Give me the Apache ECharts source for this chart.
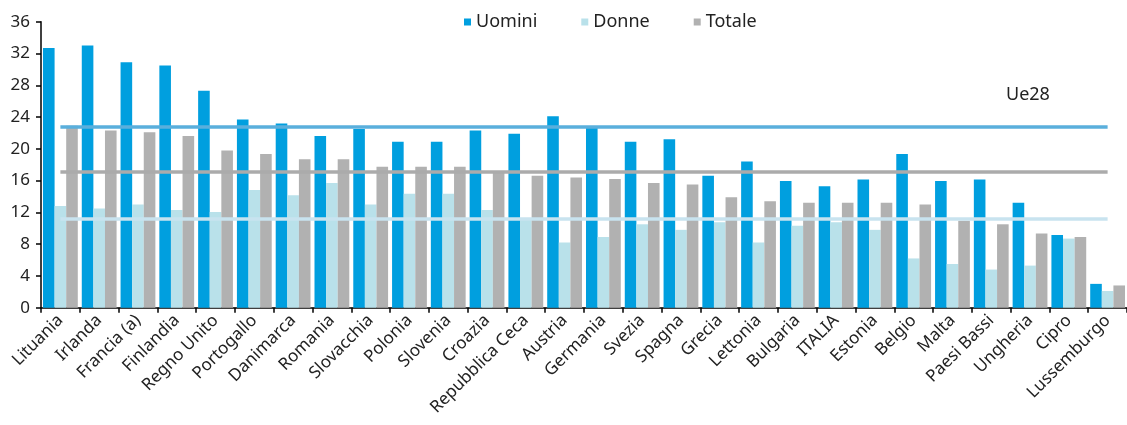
<!DOCTYPE html>
<html><head><meta charset="utf-8">
<script src="https://cdn.jsdelivr.net/npm/echarts@6/dist/echarts.min.js"></script>
<style>html,body{margin:0;padding:0;background:#fff}#c{width:1127px;height:425px}</style>
</head><body><div id="c"></div>
<script>
const categories = ['Lituania','Irlanda','Francia (a)','Finlandia','Regno Unito','Portogallo','Danimarca','Romania','Slovacchia','Polonia','Slovenia','Croazia','Repubblica Ceca','Austria','Germania','Svezia','Spagna','Grecia','Lettonia','Bulgaria','ITALIA','Estonia','Belgio','Malta','Paesi Bassi','Ungheria','Cipro','Lussemburgo'];
const uomini = [32.7,33.0,30.9,30.5,27.3,23.7,23.2,21.6,22.5,20.9,20.9,22.3,21.9,24.1,22.8,20.9,21.2,16.6,18.4,15.95,15.3,16.15,19.35,15.95,16.15,13.2,9.15,3.0];
const donne = [12.8,12.5,13.0,12.3,12.05,14.8,14.15,15.7,13.0,14.35,14.35,12.3,11.3,8.2,8.9,10.5,9.8,10.75,8.2,10.3,10.75,9.8,6.2,5.5,4.8,5.3,8.7,2.1];
const totale = [22.9,22.3,22.1,21.6,19.8,19.35,18.7,18.7,17.75,17.75,17.75,17.2,16.6,16.4,16.2,15.7,15.5,13.9,13.4,13.2,13.2,13.2,13.0,10.95,10.5,9.35,8.9,2.8];
const ue28 = { uomini: 22.8, donne: 11.2, totale: 17.1 };
const yTicks = [0,4,8,12,16,20,24,28,32,36];

const FONT = 'Noto Sans';
const colors = { uomini: '#009fdf', donne: '#b9e1ea', totale: '#b1b1b1' };
const lineColors = { uomini: '#5aafdc', donne: '#c8e3ef', totale: '#ababab' };

function refLine(name, key) {
  return {
    name: name, type: 'line', data: [], silent: true, z: 10,
    markLine: {
      silent: true, symbol: 'none', animation: false,
      label: { show: false },
      lineStyle: { color: lineColors[key], width: 3.5, type: 'solid' },
      data: [[{ coord: [categories[0], ue28[key]] }, { coord: [categories[categories.length - 1], ue28[key]] }]]
    }
  };
}

const chart = echarts.init(document.getElementById('c'), null, { renderer: 'canvas' });
chart.setOption({
  animation: false,
  textStyle: { fontFamily: FONT },
  legend: {
    data: ['Uomini', 'Donne', 'Totale'],
    top: 8, left: 459,
    itemWidth: 7, itemHeight: 7, itemGap: 44,
    icon: 'rect',
    textStyle: { fontFamily: FONT, fontSize: 18, color: '#222' }
  },
  graphic: [{
    type: 'text', left: 1006, top: 86,
    style: { text: 'Ue28', fontFamily: FONT, fontSize: 18, fill: '#222' }
  }],
  grid: { left: 41, right: -11.6, top: 21.7, bottom: 117.3, containLabel: false },
  xAxis: {
    type: 'category', data: categories,
    axisLine: { lineStyle: { color: '#000', width: 1.5 } },
    axisTick: { show: true, length: 5, lineStyle: { color: '#000', width: 1.5 } },
    axisLabel: { interval: 0, rotate: 45, fontFamily: FONT, fontSize: 17, color: '#222', margin: 10 }
  },
  yAxis: {
    type: 'value', min: 0, max: 36, interval: 4,
    axisLine: { show: true, lineStyle: { color: '#000', width: 1.5 } },
    axisTick: { show: true, length: 5, lineStyle: { color: '#000', width: 1.5 } },
    splitLine: { show: false },
    axisLabel: { fontFamily: FONT, fontSize: 17, color: '#222', margin: 11,
      formatter: v => yTicks.includes(v) ? String(v) : '' }
  },
  series: [
    { name: 'Uomini', type: 'bar', data: uomini, barWidth: 11.6, barGap: '0%', itemStyle: { color: colors.uomini } },
    { name: 'Donne', type: 'bar', data: donne, barWidth: 11.6, barGap: '0%', itemStyle: { color: colors.donne } },
    { name: 'Totale', type: 'bar', data: totale, barWidth: 11.6, barGap: '0%', itemStyle: { color: colors.totale } },
    refLine('Ue28 Uomini', 'uomini'),
    refLine('Ue28 Donne', 'donne'),
    refLine('Ue28 Totale', 'totale')
  ]
});
</script></body></html>
